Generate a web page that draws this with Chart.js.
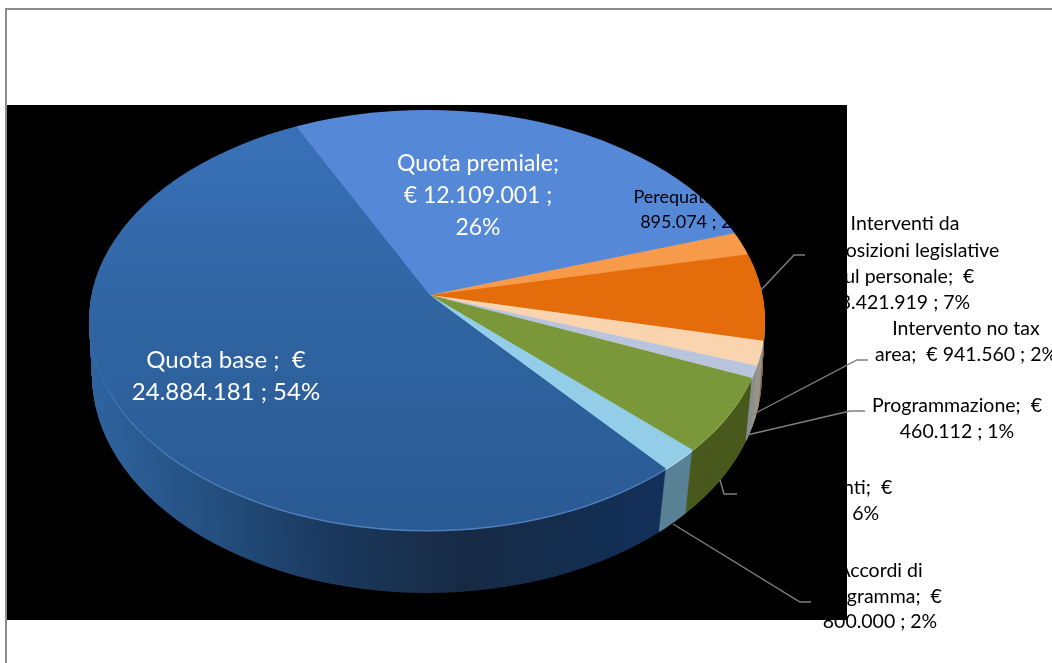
<!DOCTYPE html>
<html><head><meta charset="utf-8">
<style>html,body{margin:0;padding:0;background:#fff;overflow:hidden}canvas{display:block}</style>
<script src="https://cdn.jsdelivr.net/npm/chart.js@4"></script>
</head><body><canvas id="c" width="1052" height="663"></canvas>
<script>
const categories = ["Quota base","Quota premiale","Perequativo","Interventi da disposizioni legislative sul personale","Intervento no tax area","Programmazione","Dipartimenti","Accordi di programma"];
const values = [24884181,12109001,895074,3421919,941560,460112,2800000,800000];
const topColors = ["#2f639f","#5589d8","#f79a4a","#e46c0a","#fad4ae","#b9c5dc","#7a973a","#93cde8"];
const wallColors = ["#1c3c64","#3a64a0","#b07030","#7d6a50","#9a9488","#8a8f90","#4a5a1e","#5a8296"];
const bevelColors = ["#4f80bb","#6a9ae0","#f9b070","#ee8a35","#fde5cc","#d0d8e8","#93ad55","#b0dcf0"];
const labelTexts = [
 ["Quota premiale;","€ 12.109.001 ;","26%"],
 ["Quota base ;  €","24.884.181 ; 54%"],
 ["Perequativo;  €","895.074 ; 2%"],
 ["Interventi da","disposizioni legislative","sul personale;  €","3.421.919 ; 7%"],
 ["Intervento no tax","area;  € 941.560 ; 2%"],
 ["Programmazione;  €","460.112 ; 1%"],
 ["Dipartimenti;  €","2.800.000 ; 6%"],
 ["Accordi di","programma;  €","800.000 ; 2%"]
];
const labelLayout = [
 {x:478,y:164,gap:32,size:23,color:"#fff"},
 {x:226,y:360,gap:32,size:24,color:"#fff"},
 {x:693,y:197,gap:25,size:18,color:"#000"},
 {x:905,y:224,gap:26.3,size:19.5,color:"#000"},
 {x:966,y:329,gap:26,size:19.5,color:"#000"},
 {x:957,y:406,gap:25.5,size:19.5,color:"#000"},
 {x:825,y:488,gap:26,size:19.5,color:"#000",lineShift:[0,-11]},
 {x:880,y:571,gap:25.5,size:19.5,color:"#000"}
];
const leaders = [
 [[761,290],[794,255],[805,255]],
 [[752,415],[857,360],[868,360]],
 [[747,435],[850,411],[865,411]],
 [[720,480],[724,494],[737,494]],
 [[673,524],[800,602],[811,602]]
];
const APEX={x:430,y:295}, TILT={x:338,y:190}, BIG=1.4;
const TOP={cx:427,cy:320,rx:338,ry:210}, DEPTH={cy:55,rx:-3,ry:8,apex:63,narrow:0.03}, STEPS=63;

function paint(chart,t,colorFor){
  const ctx=chart.ctx, arcs=chart.getDatasetMeta(0).data, a0=arcs[0], R=a0.outerRadius;
  ctx.save();
  ctx.beginPath();
  ctx.ellipse(TOP.cx,TOP.cy+DEPTH.cy*t,TOP.rx+DEPTH.rx*t,TOP.ry+DEPTH.ry*t,0,0,Math.PI*2);
  ctx.clip();
  ctx.translate(APEX.x,APEX.y+DEPTH.apex*t);
  ctx.scale(TILT.x/R*BIG*(1-DEPTH.narrow*t),TILT.y/R*BIG);
  ctx.translate(-a0.x,-a0.y);
  arcs.forEach((arc,i)=>{
    const o=arc.options;
    arc.options=Object.assign({},o,{backgroundColor:colorFor(i,ctx,a0,R),borderWidth:0});
    arc.draw(ctx);
    arc.options=o;
  });
  ctx.restore();
}
function baseTopGradient(ctx,a0,R){
  const s=TILT.y/R*BIG;
  const g=ctx.createLinearGradient(0,a0.y+(110-APEX.y)/s,0,a0.y+(530-APEX.y)/s);
  g.addColorStop(0,"#3a72ba");g.addColorStop(.55,"#2f639f");g.addColorStop(1,"#2a5a94");
  return g;
}
function baseWallGradient(ctx,a0,R){
  const s=TILT.x/R*BIG;
  const g=ctx.createLinearGradient(a0.x+(88-APEX.x)/s,0,a0.x+(670-APEX.x)/s,0);
  g.addColorStop(0,"#2f639f");g.addColorStop(.2,"#245080");g.addColorStop(.4,"#1b3a60");g.addColorStop(.65,"#172a44");g.addColorStop(1,"#12305a");
  return g;
}
const pie3d={
  id:"pie3d",
  beforeDraw(chart){
    const c=chart.ctx;
    c.save();
    c.fillStyle="#fff";c.fillRect(0,0,1052,663);
    c.strokeStyle="#8c8c8c";c.lineWidth=2;c.strokeRect(6,9,1060,680);
    c.fillStyle="#000";c.fillRect(7,105,840,515);
    c.restore();
  },
  beforeDatasetsDraw(chart){
    for(let k=STEPS;k>=2;k--){
      paint(chart,k/STEPS,(i,ctx,a0,R)=>i===0?baseWallGradient(ctx,a0,R):wallColors[i]);
    }
    paint(chart,1.5/STEPS,(i)=>bevelColors[i]);
    paint(chart,0,(i,ctx,a0,R)=>i===0?baseTopGradient(ctx,a0,R):topColors[i]);
    return false;
  },
  afterDraw(chart){
    const c=chart.ctx;
    c.save();
    c.strokeStyle="#7f7f7f";c.lineWidth=1.4;
    leaders.forEach(pts=>{
      c.beginPath();
      pts.forEach((p,i)=>i?c.lineTo(p[0],p[1]):c.moveTo(p[0],p[1]));
      c.stroke();
    });
    c.textAlign="center";c.textBaseline="middle";
    labelTexts.forEach((lines,n)=>{
      const l=labelLayout[n];
      c.font=l.size+'px Lato';c.fillStyle=l.color;
      lines.forEach((s,i)=>c.fillText(s,l.x+((l.lineShift&&l.lineShift[i])||0),l.y+i*l.gap));
    });
    c.restore();
  }
};
new Chart(document.getElementById("c"),{
  type:"pie",
  data:{labels:categories,datasets:[{data:values,backgroundColor:topColors,borderWidth:0}]},
  options:{responsive:false,animation:false,rotation:142.6,
    plugins:{legend:{display:false},tooltip:{enabled:false},title:{display:false}}},
  plugins:[pie3d]
});
</script></body></html>
